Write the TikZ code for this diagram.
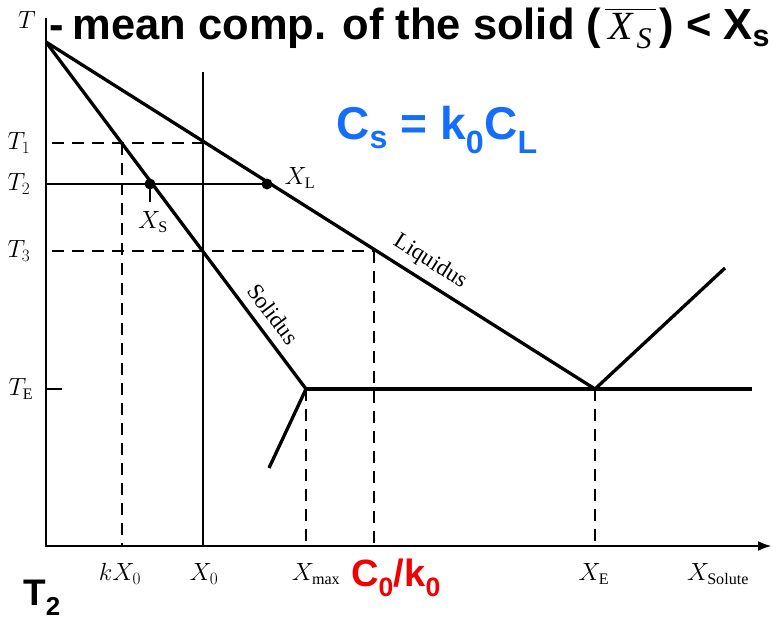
\documentclass[tikz,border=0pt]{standalone}
\usepackage{fontspec}
\usepackage{amsmath}
\setmainfont{Liberation Serif}
\newfontfamily\arialb[Scale=1]{Liberation Sans}
\usetikzlibrary{arrows.meta}
\definecolor{myblue}{RGB}{20,110,250}
\definecolor{myred}{RGB}{240,0,0}
\tikzset{
  thickline/.style={line width=3.3pt},
  axisline/.style={line width=2.8pt},
  thinline/.style={line width=1.8pt},
  dashline/.style={line width=1.9pt, dash pattern=on 12pt off 8pt},
  lbl/.style={font=\fontsize{23}{23}\selectfont, inner sep=0pt},
  dot/.style={circle, fill=black, inner sep=0pt, minimum size=11pt},
}
\newcommand{\meanxs}{\ensuremath{\overline{\hbox{\normalfont\itshape\fontsize{40}{40}\selectfont\kern3pt X\kern4pt\raisebox{-9pt}{\fontsize{30}{30}\selectfont S}\kern4pt}}}}
\begin{document}
\begin{tikzpicture}[x=1pt,y=-1pt]
\useasboundingbox (0,0) rectangle (779,621);
% key coordinates
\coordinate (O) at (46,546);
\coordinate (Ytop) at (46,18);
\coordinate (Xend) at (772,546);
\coordinate (Top) at (46,42);
\coordinate (E) at (595,389);
\coordinate (M) at (306,389);
\coordinate (SS) at (269,468);
\coordinate (RL) at (725,268);
\coordinate (TEend) at (752,389);
\coordinate (T1a) at (52,143);
\coordinate (T1b) at (203,143);
\coordinate (T1s) at (122,143);
\coordinate (T2a) at (46,184);
\coordinate (T3a) at (52,251);
\coordinate (T3b) at (374,251);
\coordinate (X0top) at (203,72);
\coordinate (kX0b) at (122,546);
\coordinate (X0b) at (203,546);
\coordinate (Xmb) at (306,546);
\coordinate (Ckb) at (374,546);
\coordinate (XEb) at (595,546);
\coordinate (TEtick) at (62,389);
\coordinate (XSt) at (150,202);
% axes
\draw[axisline, -{Latex[length=14pt,width=10pt]}] (Ytop) -- (O) -- (Xend);
\draw[axisline] (46,389) -- (TEtick);
% dashed guides
\draw[dashline] (T1a) -- (T1b);
\draw[dashline] (T3a) -- (T3b);
\draw[dashline] (T1s) -- (kX0b);
\draw[dashline] (M) -- (Xmb);
\draw[dashline] (T3b) -- (Ckb);
\draw[dashline] (E) -- (XEb);
% thin lines
\draw[thinline] (X0top) -- (X0b);
\node[dot] (XSd) at (150,184) {};
\node[dot] (XLd) at (267,184) {};
\draw[thinline] (T2a) -- (XLd.center);
\draw[thinline] (XSd.center) -- (XSt);
% phase lines
\draw[thickline] (Top) -- (E) -- (RL);
\draw[thickline] (Top) -- (M) -- (SS);
\draw[thickline] (M) -- (TEend);
% labels
\node[lbl] (lT) at (27,20) {$T$};
\node[lbl] (lT1) at (19,143) {$T_1$};
\node[lbl] (lT2) at (19,184) {$T_2$};
\node[lbl] (lT3) at (19,251) {$T_3$};
\node[lbl] (lTE) at (21,389) {$T_\mathrm{E}$};
\node[lbl] (lXS) at (153,222) {$X_\mathrm{S}$};
\node[lbl] (lXL) at (300,178) {$X_\mathrm{L}$};
\node[lbl] (lk) at (120,574) {$kX_0$};
\node[lbl] (lX0) at (204,574) {$X_0$};
\node[lbl] (lXm) at (316,574) {$X_\mathrm{max}$};
\node[lbl] (lXE) at (594,574) {$X_\mathrm{E}$};
\node[lbl] (lXs) at (718,574) {$X_\mathrm{Solute}$};
\node[lbl, rotate=-32.3] (liq) at (430,262) {Liquidus};
\node[lbl, rotate=-53.2] (sol) at (273,314) {Solidus};
% coloured / bold annotations
\node[inner sep=0pt, text=myred, font=\arialb\bfseries\fontsize{38}{38}\selectfont] (ck) at (396,578) {C$_\text{0}$/k$_\text{0}$};
\node[inner sep=0pt, text=myblue, font=\arialb\bfseries\fontsize{46}{46}\selectfont] (cs) at (437,130) {C$_\text{s}$ = k$_\text{0}$C$_\text{L}$};
\node[inner sep=0pt, font=\arialb\bfseries\fontsize{37}{37}\selectfont] (t2) at (42,598) {T$_\text{2}$};
\node[inner sep=0pt, anchor=west, font=\arialb\bfseries\fontsize{43.5}{43.5}\selectfont] (title) at (49,28) {-\hspace{9pt}mean comp. of the solid (\hspace{4pt}\meanxs\hspace{4pt}) < X$_\text{s}$};
\end{tikzpicture}
\end{document}
